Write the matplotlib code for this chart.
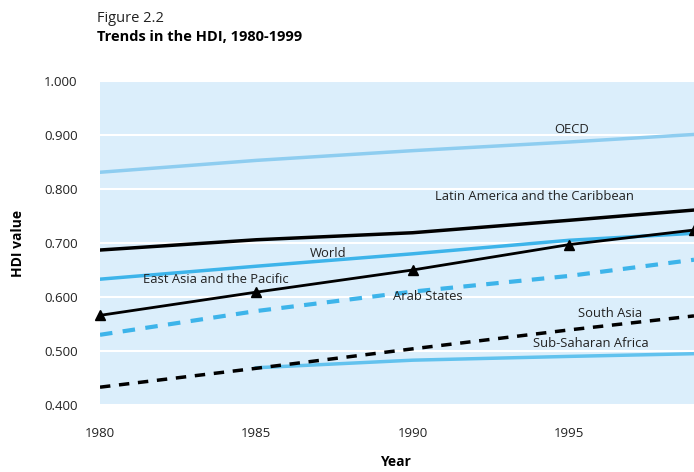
import matplotlib
matplotlib.use("Agg")
import matplotlib.pyplot as plt

plt.rcParams['font.family'] = ['Open Sans', 'DejaVu Sans']

# HDI values
years = [1980, 1985, 1990, 1995, 1999]
oecd = [0.831, 0.853, 0.871, 0.887, 0.901]
latin_america = [0.687, 0.706, 0.719, 0.742, 0.761]
world = [0.633, 0.657, 0.680, 0.705, 0.718]
east_asia = [0.566, 0.609, 0.650, 0.697, 0.724]
arab_states = [0.530, 0.574, 0.610, 0.639, 0.669]
south_asia = [0.433, 0.468, 0.504, 0.539, 0.565]
ssa_years = [1985, 1990, 1995, 1999]
sub_saharan = [0.469, 0.483, 0.490, 0.495]

y_ticks = [0.4, 0.5, 0.6, 0.7, 0.8, 0.9, 1.0]
x_ticks = [1980, 1985, 1990, 1995]

bg = '#dbeefb'
light_blue = '#8ecdf0'
mid_blue = '#3db4ea'
ssa_blue = '#62c2ee'

fig = plt.figure(figsize=(6.94, 4.72), dpi=100)
ax = fig.add_axes([100 / 694, 1 - 405 / 472, 594 / 694, 324 / 472])
ax.set_facecolor(bg)
for s in ax.spines.values():
    s.set_visible(False)

for yv in y_ticks:
    ax.axhline(yv, color='white', lw=1.5, zorder=1)

ax.plot(years, oecd, color=light_blue, lw=2.5, zorder=3)
ax.plot(years, latin_america, color='black', lw=2.5, zorder=3)
ax.plot(years, world, color=mid_blue, lw=2.5, zorder=3)
ax.plot(ssa_years, sub_saharan, color=ssa_blue, lw=2.5, zorder=3)
ax.plot(years, arab_states, color=mid_blue, lw=3, ls=(0, (3, 2.5)), zorder=3)
ax.plot(years, east_asia, color='black', lw=2, marker='^', ms=7, zorder=4,
        clip_on=False)
ax.plot(years, south_asia, color='black', lw=2.5, ls=(0, (3, 2.5)), zorder=4)

lbl = dict(fontsize=9.4, color='#222222', ha='center', va='center', zorder=5)
ax.text(1995.1, 0.910, 'OECD', **lbl)
ax.text(1993.9, 0.787, 'Latin America and the Caribbean', **lbl)
ax.text(1987.3, 0.681, 'World', **lbl)
ax.text(1983.7, 0.633, 'East Asia and the Pacific', **lbl)
ax.text(1990.5, 0.601, 'Arab States', **lbl)
ax.text(1996.3, 0.569, 'South Asia', **lbl)
ax.text(1995.7, 0.514, 'Sub-Saharan Africa', **lbl)

ax.set_xlim(1980, 1999)
ax.set_ylim(0.4, 1.0)
ax.set_yticks(y_ticks)
ax.set_yticklabels([f'{v:.3f}' for v in y_ticks])
ax.set_xticks(x_ticks)
ax.tick_params(length=0, labelsize=9.5, colors='#222222')
ax.tick_params(axis='y', pad=16)
ax.tick_params(axis='x', pad=16)

fig.text(18 / 694, 1 - 243 / 472, 'HDI value', fontsize=10, fontweight='bold',
         rotation=90, ha='center', va='center')
fig.text(395 / 694, 1 - 462 / 472, 'Year', fontsize=10, fontweight='bold',
         ha='center', va='center')

fig.text(97 / 694, 1 - 18 / 472, 'Figure 2.2', fontsize=10.5, va='center',
         color='#222222')
fig.text(97 / 694, 1 - 37 / 472, 'Trends in the HDI, 1980-1999', fontsize=10.5,
         fontweight='bold', va='center')

fig.savefig('out.png', dpi=100)
